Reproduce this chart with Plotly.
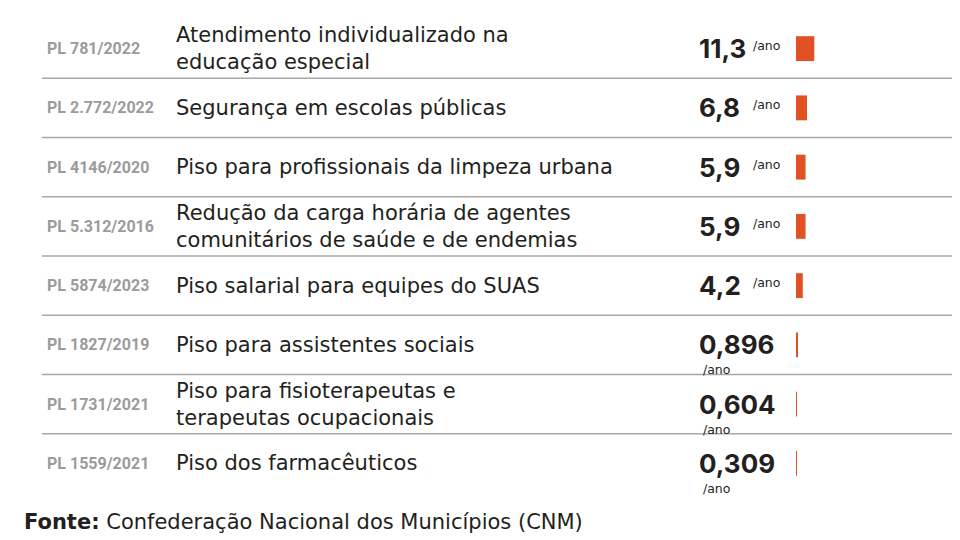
import plotly.graph_objects as go

# ---- data ----
bill_ids = ["PL 781/2022", "PL 2.772/2022", "PL 4146/2020", "PL 5.312/2016",
            "PL 5874/2023", "PL 1827/2019", "PL 1731/2021", "PL 1559/2021"]
descriptions = [
    "Atendimento individualizado na<br>educação especial",
    "Segurança em escolas públicas",
    "Piso para profissionais da limpeza urbana",
    "Redução da carga horária de agentes<br>comunitários de saúde e de endemias",
    "Piso salarial para equipes do SUAS",
    "Piso para assistentes sociais",
    "Piso para fisioterapeutas e<br>terapeutas ocupacionais",
    "Piso dos farmacêuticos",
]
impact_values = [11.3, 6.8, 5.9, 5.9, 4.2, 0.896, 0.604, 0.309]
unit_label = "/ano"
source_label = "Fonte:"
source_text = "Confederação Nacional dos Municípios (CNM)"

# ---- style ----
W, H = 960, 540
OFFSET = 8            # page body margin of the viewer
BAR_COLOR = "#E05224"
DARK = "#231F20"
GREY = "#9B9B9B"
LINE = "#A8A8A8"
BODY_FONT = "DejaVu Sans"
NUM_FONT = "Inter"
ID_FONT = "Roboto"
BAR_LEFT_PX = 796 - OFFSET
PX_PER_UNIT = 1.62


def fmt(v):
    return str(v).replace(".", ",")


def px(x):
    return (x - OFFSET) / W


n = len(bill_ids)
fig = go.Figure()
fig.add_trace(go.Bar(
    x=impact_values, y=bill_ids, orientation="h",
    width=0.42, marker=dict(color=BAR_COLOR, line=dict(width=0)),
    hoverinfo="skip",
))

ann = []
for i, (bid, desc, v) in enumerate(zip(bill_ids, descriptions, impact_values)):
    ann.append(dict(x=px(45), xref="paper", y=bid, yref="y", xanchor="left", yanchor="middle",
                    text=bid, showarrow=False,
                    font=dict(family=ID_FONT, size=16, color=GREY, weight=700)))
    ann.append(dict(x=px(174), xref="paper", y=bid, yref="y", xanchor="left", yanchor="middle",
                    text=desc, showarrow=False, align="left",
                    font=dict(family=BODY_FONT, size=21, color=DARK)))
    ann.append(dict(x=px(697), xref="paper", y=bid, yref="y", xanchor="left", yanchor="middle",
                    text=fmt(v), showarrow=False,
                    font=dict(family=NUM_FONT, size=26, color=DARK, weight=700)))
    if v >= 1:
        ann.append(dict(x=px(751), xref="paper", y=bid, yref="y", xanchor="left", yanchor="middle",
                        yshift=3, text=unit_label, showarrow=False,
                        font=dict(family=BODY_FONT, size=12.5, color=DARK)))
    else:
        ann.append(dict(x=px(701), xref="paper", y=bid, yref="y", xanchor="left", yanchor="middle",
                        yshift=-25, text=unit_label, showarrow=False,
                        font=dict(family=BODY_FONT, size=12.5, color=DARK)))

ann.append(dict(x=px(22), xref="paper", y=-0.062, yref="paper", xanchor="left", yanchor="middle",
                text=f"<b>{source_label}</b> {source_text}", showarrow=False,
                font=dict(family=BODY_FONT, size=21, color=DARK)))

shapes = []
for i in range(n - 1):
    shapes.append(dict(type="line", xref="paper", yref="y", x0=px(42), x1=px(953),
                       y0=i + 0.5, y1=i + 0.5, line=dict(color=LINE, width=1.5)))

fig.update_layout(
    width=W, height=H,
    margin=dict(l=0, r=0, t=11, b=55),
    paper_bgcolor="white", plot_bgcolor="white",
    showlegend=False,
    xaxis=dict(range=[-BAR_LEFT_PX / PX_PER_UNIT, (W - BAR_LEFT_PX) / PX_PER_UNIT],
               visible=False, fixedrange=True),
    yaxis=dict(type="category", categoryorder="array", categoryarray=bill_ids,
               range=[n - 0.5, -0.5], visible=False, fixedrange=True),
    annotations=ann, shapes=shapes,
)

fig.write_html("out.html")
